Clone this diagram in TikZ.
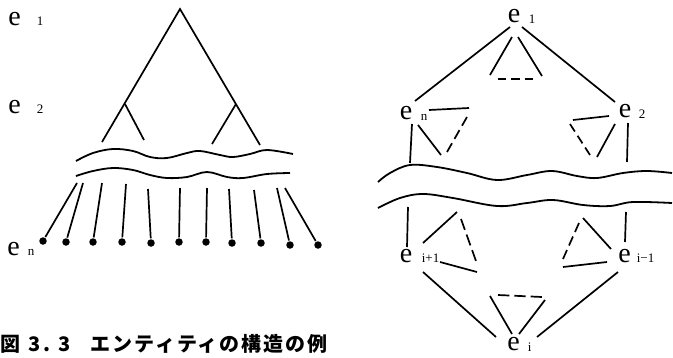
\documentclass[tikz,border=0pt]{standalone}
\usepackage{fontspec}
\usepackage{tikz}
\usetikzlibrary{positioning}
\newfontfamily\cjk{Noto Sans CJK JP}[LetterSpace=10]
\newfontfamily\lab{Liberation Serif}

\begin{document}
\begin{tikzpicture}[
  x=1pt, y=-1pt, line width=1.7pt,
  elab/.style={inner sep=0pt, font=\lab\fontsize{28}{30}\selectfont},
  idx/.style={inner sep=0pt, anchor=base west, font=\lab\fontsize{13}{14}\selectfont},
  dot/.style={circle, fill, inner sep=0pt, minimum size=7.5pt},
  wave/.style={line width=1.8pt},
  hint/.style={dash pattern=on #1 off 5pt}, hint/.default=9pt,
  capt/.style={inner sep=0pt, anchor=base west, font=\cjk\bfseries\fontsize{20}{22}\selectfont}
]
  \useasboundingbox (0,0) rectangle (673,357);

  % left: levels of the entity tree
  \node[elab] (l1) at (14.5,19) {e};
  \node[idx] (l1i) at (36,25) {1};
  \node[elab] (l2) at (14.5,107.5) {e};
  \node[idx] (l2i) at (36,113) {2};
  \node[elab] (ln) at (13.5,249) {e};
  \node[idx] (lni) at (27,255) {n};

  \coordinate (apex) at (180,9);
  \coordinate (kl) at (125,104);
  \coordinate (kr) at (236,104);
  \coordinate (kll) at (102,142);
  \coordinate (krr) at (260,145);
  \draw (kll) -- (apex) -- (krr);
  \draw (kl) -- (144,140);
  \draw (kr) -- (212,144);

  \draw[wave] plot[smooth, tension=0.6] coordinates {(76,161) (93,153) (113,149) (133,151) (150,157) (167,158) (187,153) (200,151) (220,155) (233,157) (250,154) (267,150) (293,154)};
  \draw[wave] plot[smooth, tension=0.6] coordinates {(76,176) (93,171) (113,168) (133,170) (150,175) (167,178) (187,177) (207,172) (227,177) (243,178) (267,174) (290,173)};

  % leaves
  \foreach \tx/\ty/\bx/\by [count=\k] in {77/183/43/241, 83/183/66/242, 102/183/93/242,
      126/184/122/242, 148/189/151/243, 180/188/179/242, 207/188/206/242,
      229/189/232/243, 254/190/261/243, 277/188/290/245, 285/188/318/245} {
    \node[dot] (d\k) at (\bx,\by) {};
    \draw (\tx,\ty) -- (d\k);
  }

  % right: cyclic structure
  \node[elab] (r1) at (514,16.5) {e};
  \node[idx] (r1i) at (528,23) {1};
  \node[elab] (rn) at (406,113.5) {e};
  \node[idx] (rni) at (420,120) {n};
  \node[elab] (r2) at (625,111.5) {e};
  \node[idx] (r2i) at (638,118) {2};
  \node[elab] (rip) at (406,256) {e};
  \node[idx] (ripi) at (421,262) {i+1};
  \node[elab] (rim) at (624.5,256) {e};
  \node[idx] (rimi) at (636,262) {i\textminus1};
  \node[elab] (ri) at (513.5,344) {e};
  \node[idx] (rii) at (527,351) {i};

  \draw ([shift={(-4,10.5)}]r1.center) -- ([shift={(9,-12.5)}]rn.center);
  \draw ([shift={(8,10.5)}]r1.center) -- ([shift={(-10,-9.5)}]r2.center);
  \draw ([shift={(17,16)}]rip.center) -- ([shift={(-17.5,-7)}]ri.center);
  \draw ([shift={(-6.5,16)}]rim.center) -- ([shift={(23.5,-7)}]ri.center);

  % sub-trees
  \draw ([shift={(-2,20.5)}]r1.center) -- ([shift={(-24,58.5)}]r1.center);
  \draw ([shift={(4,20.5)}]r1.center) -- ([shift={(28,59.5)}]r1.center);
  \draw[hint=8.3pt] ([shift={(-16,62.5)}]r1.center) -- ([shift={(19,62.5)}]r1.center);

  \draw ([shift={(6,10.5)}]rn.center) -- ([shift={(4,49.5)}]rn.center);
  \draw ([shift={(23,-3.5)}]rn.center) -- ([shift={(63,-5.5)}]rn.center);
  \draw ([shift={(12,11.5)}]rn.center) -- ([shift={(35,41.5)}]rn.center);
  \draw[hint=10.1pt] ([shift={(61,3.5)}]rn.center) -- ([shift={(41,38.5)}]rn.center);

  \draw ([shift={(-52,8.5)}]r2.center) -- ([shift={(-16,4.5)}]r2.center);
  \draw[hint=9pt] ([shift={(-55,12.5)}]r2.center) -- ([shift={(-35,43.5)}]r2.center);
  \draw ([shift={(-10,12.5)}]r2.center) -- ([shift={(-28,45.5)}]r2.center);
  \draw ([shift={(3,11.5)}]r2.center) -- ([shift={(2,50.5)}]r2.center);

  \draw[wave] plot[smooth, tension=0.6] coordinates {(378,182) (390,173) (410,165) (437,167) (467,173) (497,180) (527,175) (552,171) (577,176) (597,178) (623,173) (647,171) (672,173)};
  \draw[wave] plot[smooth, tension=0.6] coordinates {(378,208) (400,198) (423,194) (453,198) (497,206) (527,203) (553,200) (583,205) (610,206) (633,202) (672,203)};

  \draw ([shift={(2,-49)}]rip.center) -- ([shift={(1,-9)}]rip.center);
  \draw ([shift={(17,-13)}]rip.center) -- ([shift={(51,-44)}]rip.center);
  \draw[hint=11.5pt] ([shift={(55,-37)}]rip.center) -- ([shift={(70,5)}]rip.center);
  \draw ([shift={(34,6)}]rip.center) -- ([shift={(71,16)}]rip.center);

  \draw ([shift={(-41.5,-38)}]rim.center) -- ([shift={(-13.5,-7)}]rim.center);
  \draw[hint=9.8pt] ([shift={(-45.5,-33)}]rim.center) -- ([shift={(-61.5,3)}]rim.center);
  \draw ([shift={(-61.5,11)}]rim.center) -- ([shift={(-17.5,6)}]rim.center);
  \draw ([shift={(1.5,-44)}]rim.center) -- ([shift={(0.5,-14)}]rim.center);

  \draw ([shift={(-23.5,-48)}]ri.center) -- ([shift={(-1.5,-10)}]ri.center);
  \draw ([shift={(31.5,-44)}]ri.center) -- ([shift={(5.5,-10)}]ri.center);
  \draw[hint=11.3pt] ([shift={(-15.5,-49)}]ri.center) -- ([shift={(28.5,-47)}]ri.center);

  % caption
  \node[capt] (cap) at (0,351) {図\hspace{8pt}3.\hspace{8pt}3\hspace{20pt}エンティティの構造の例};
\end{tikzpicture}
\end{document}
